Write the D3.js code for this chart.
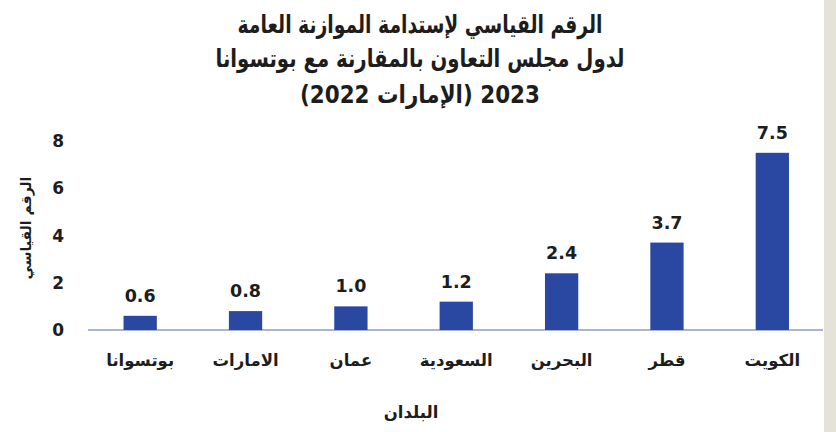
<!DOCTYPE html>
<html>
<head>
<meta charset="utf-8">
<script src="https://cdn.jsdelivr.net/npm/d3@7"></script>
<style>
  body { margin: 0; background: #fff; }
  svg text { font-family: "DejaVu Sans", sans-serif; font-weight: bold; fill: #1d1d1d; }
</style>
</head>
<body>
<div id="chart"></div>
<script>
////////////////////////////////////////////////////////////
//////////////////////// Data //////////////////////////////
////////////////////////////////////////////////////////////

var countries = ["بوتسوانا", "الامارات", "عمان", "السعودية", "البحرين", "قطر", "الكويت"];
var values = [0.6, 0.8, 1.0, 1.2, 2.4, 3.7, 7.5];
var yTicks = [0, 2, 4, 6, 8];
var titleLines = [
    "الرقم القياسي لإستدامة الموازنة العامة",
    "لدول مجلس التعاون بالمقارنة مع بوتسوانا",
    "2023 (الإمارات 2022)"
];

////////////////////////////////////////////////////////////
//////////////////////// Set-up ////////////////////////////
////////////////////////////////////////////////////////////

var width = 836, height = 432;

var svg = d3.select("#chart").append("svg")
    .attr("width", width)
    .attr("height", height);

//beige page edge on the right
svg.append("rect")
    .attr("x", 824).attr("y", 0)
    .attr("width", width - 824).attr("height", height)
    .style("fill", "#e5e2d7");

var x = d3.scaleBand()
    .domain(countries)
    .range([87.5, 825])
    .paddingInner(0.684)
    .paddingOuter(0.342);

var y = d3.scaleLinear()
    .domain([0, 8])
    .range([330, 141]);

////////////////////////////////////////////////////////////
//////////////////////// Title /////////////////////////////
////////////////////////////////////////////////////////////

//the original font is narrower than DejaVu, so squeeze each line to its width
var titleWidths = [365, 409, 240];

svg.selectAll(".title")
    .data(titleLines)
    .enter().append("text")
    .attr("class", "title")
    .attr("x", 420)
    .attr("y", function (d, i) { return [33, 67, 103][i]; })
    .attr("direction", "rtl")
    .attr("textLength", function (d, i) { return titleWidths[i]; })
    .attr("lengthAdjust", "spacingAndGlyphs")
    .style("text-anchor", "middle")
    .style("font-size", "25px")
    .text(function (d) { return d; });

////////////////////////////////////////////////////////////
//////////////////////// Axes //////////////////////////////
////////////////////////////////////////////////////////////

//y tick labels only, no line
svg.selectAll(".ytick")
    .data(yTicks)
    .enter().append("text")
    .attr("class", "ytick")
    .attr("x", 64)
    .attr("y", function (d) { return y(d); })
    .attr("dy", "0.36em")
    .style("text-anchor", "end")
    .style("font-size", "17px")
    .text(function (d) { return d; });

svg.append("line")
    .attr("x1", 88).attr("x2", 823)
    .attr("y1", y(0)).attr("y2", y(0))
    .style("stroke", "#8d9bc9")
    .style("stroke-width", 1.3);

svg.selectAll(".xlabel")
    .data(countries)
    .enter().append("text")
    .attr("class", "xlabel")
    .attr("x", function (d) { return x(d) + x.bandwidth() / 2; })
    .attr("y", 366)
    .attr("direction", "rtl")
    .style("text-anchor", "middle")
    .style("font-size", "16.5px")
    .text(function (d) { return d; });

svg.append("text")
    .attr("x", 411)
    .attr("y", 418)
    .attr("direction", "rtl")
    .style("text-anchor", "middle")
    .style("font-size", "16.5px")
    .text("البلدان");

svg.append("text")
    .attr("transform", "translate(31," + 228 + ") rotate(-90)")
    .attr("direction", "rtl")
    .style("text-anchor", "middle")
    .style("font-size", "14px")
    .text("الرقم القياسي");

////////////////////////////////////////////////////////////
//////////////////////// Bars //////////////////////////////
////////////////////////////////////////////////////////////

svg.selectAll(".bar")
    .data(values)
    .enter().append("rect")
    .attr("class", "bar")
    .attr("x", function (d, i) { return x(countries[i]); })
    .attr("y", function (d) { return y(d); })
    .attr("width", x.bandwidth())
    .attr("height", function (d) { return y(0) - y(d); })
    .style("fill", "#2a47a2");

svg.selectAll(".barLabel")
    .data(values)
    .enter().append("text")
    .attr("class", "barLabel")
    .attr("x", function (d, i) { return x(countries[i]) + x.bandwidth() / 2; })
    .attr("y", function (d) { return y(d) - 14; })
    .style("text-anchor", "middle")
    .style("font-size", "17.5px")
    .text(function (d) { return d.toFixed(1); });
</script>
</body>
</html>
